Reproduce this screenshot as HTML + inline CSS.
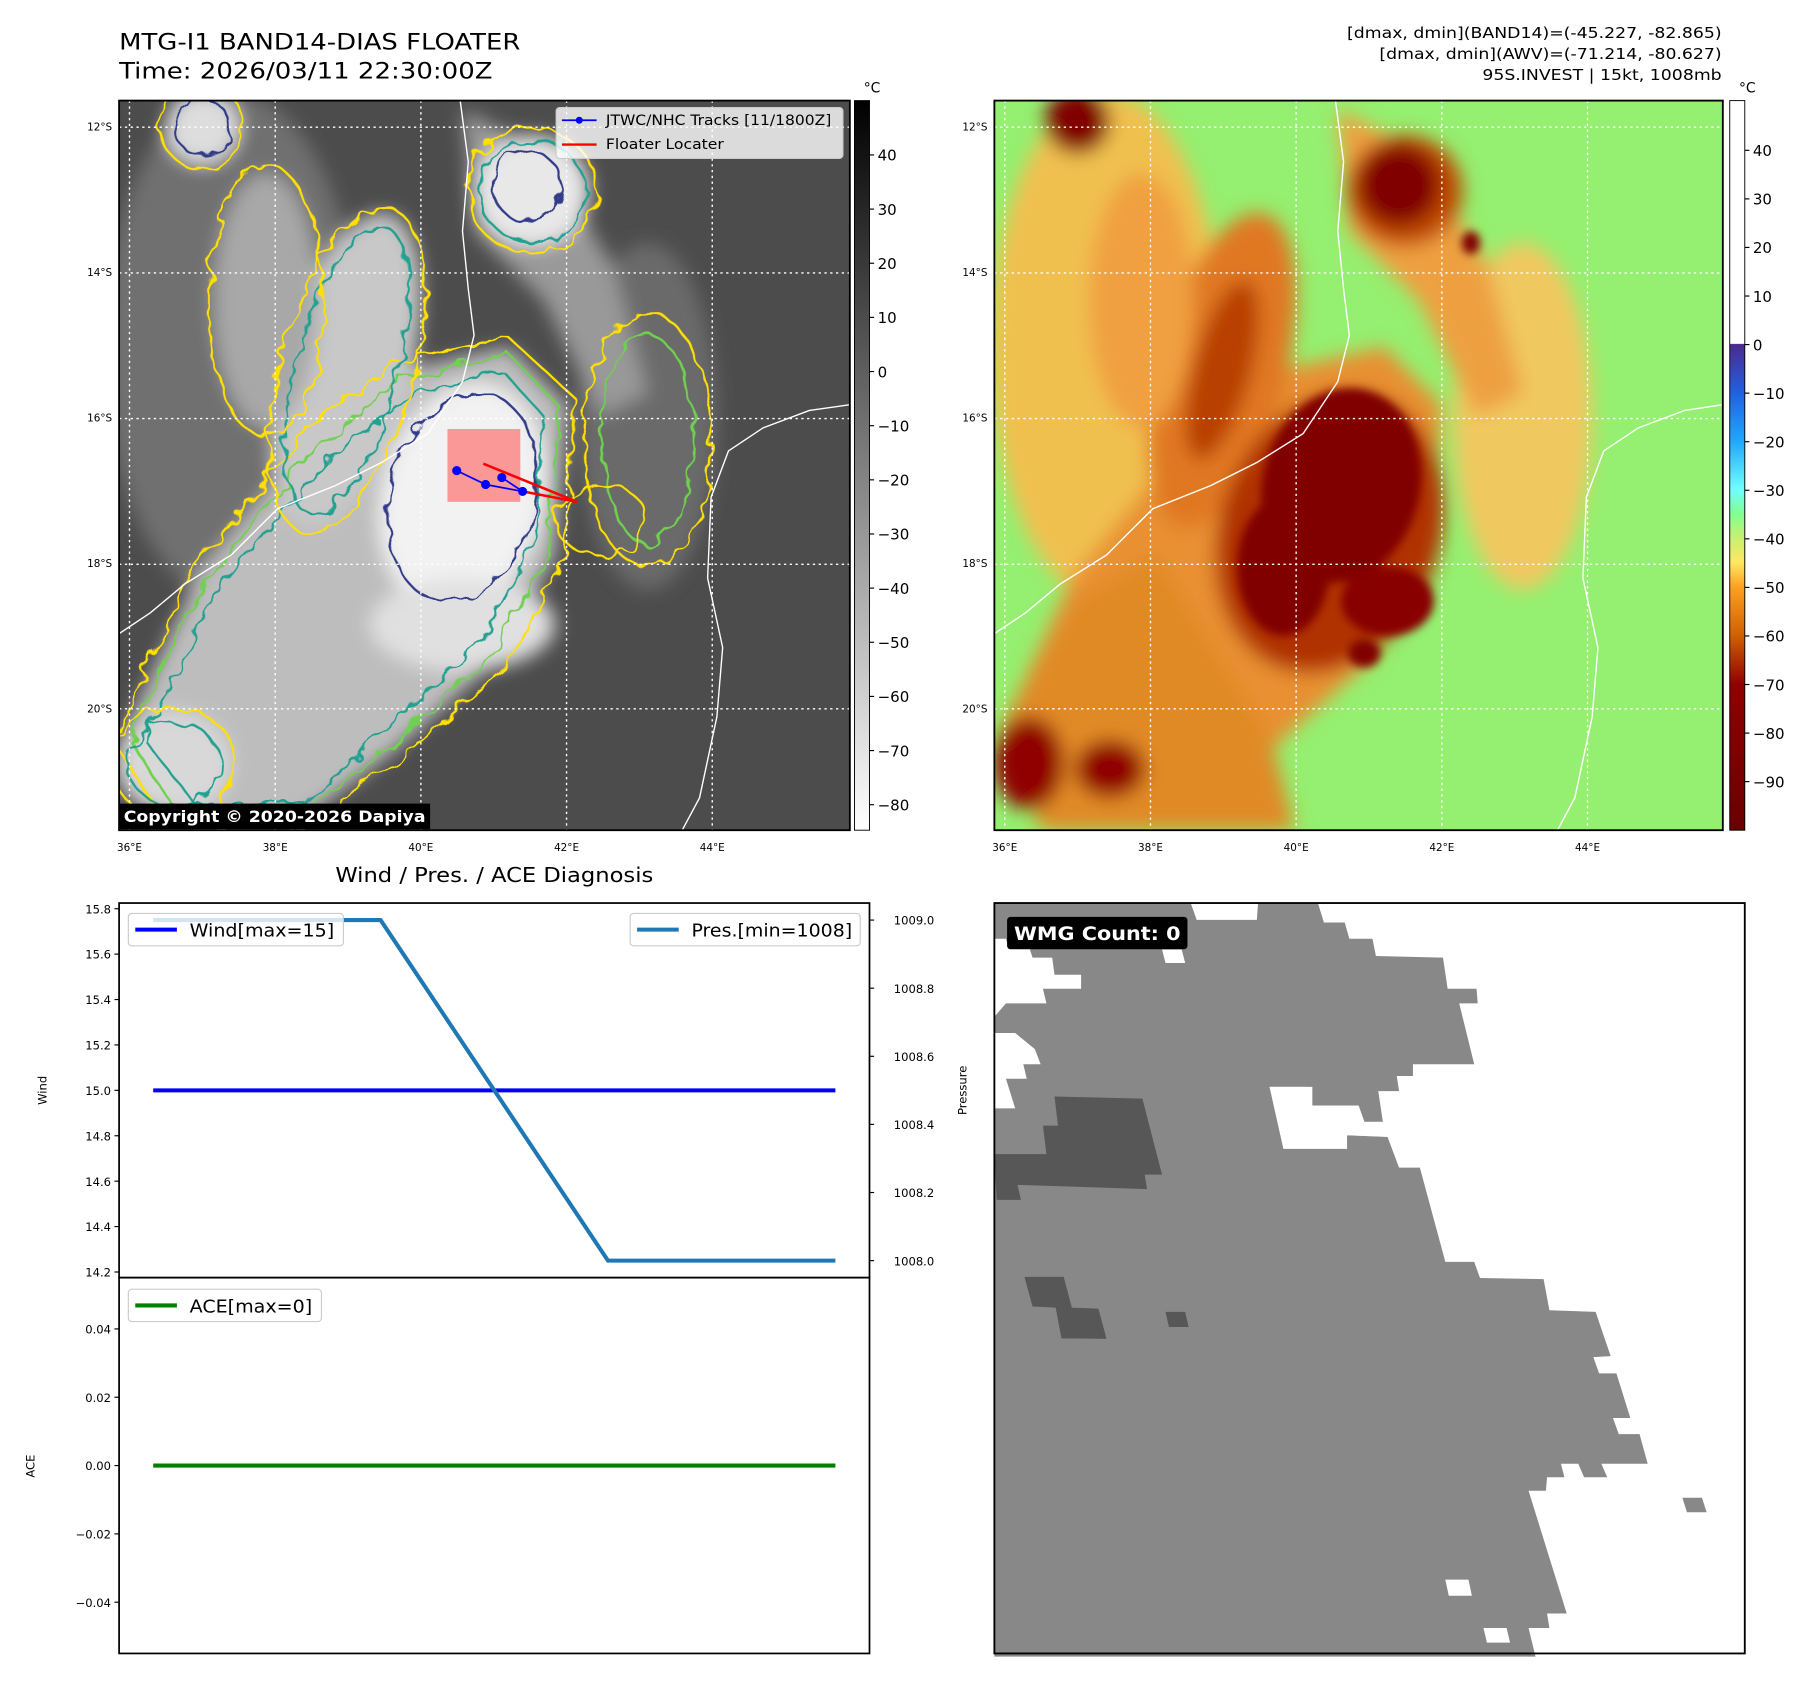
<!DOCTYPE html>
<html><head><meta charset="utf-8"><style>
html,body{margin:0;padding:0;background:#fff;}
svg{display:block;font-family:"DejaVu Sans","Liberation Sans",sans-serif;}
</style></head><body>
<svg id="fig" width="1813" height="1690" viewBox="0 0 1568 1461.6" xmlns="http://www.w3.org/2000/svg">
<defs>
  <filter id="blur8" x="-30%" y="-30%" width="160%" height="160%"><feGaussianBlur stdDeviation="8"/></filter>
  <filter id="blur4" x="-30%" y="-30%" width="160%" height="160%"><feGaussianBlur stdDeviation="4"/></filter>
  <filter id="wig" x="-10%" y="-10%" width="120%" height="120%"><feTurbulence type="fractalNoise" baseFrequency="0.06" numOctaves="2" seed="3"/><feDisplacementMap in="SourceGraphic" scale="14"/></filter>
  <clipPath id="clipL"><rect x="103" y="87" width="632" height="631"/></clipPath>
  <clipPath id="clipR"><rect x="860" y="87" width="630" height="631"/></clipPath>
  <linearGradient id="cbL" x1="0" y1="0" x2="0" y2="1"><stop offset="0" stop-color="#000"/><stop offset="1" stop-color="#fff"/></linearGradient>
  <linearGradient id="cbR" x1="0" y1="0" x2="0" y2="1">
    <stop offset="0" stop-color="#fff"/><stop offset="0.333" stop-color="#fff"/>
    <stop offset="0.334" stop-color="#4b2a90"/><stop offset="0.4" stop-color="#2060e0"/>
    <stop offset="0.467" stop-color="#20a8ff"/><stop offset="0.533" stop-color="#70ffff"/>
    <stop offset="0.567" stop-color="#80ff90"/><stop offset="0.6" stop-color="#c8f070"/>
    <stop offset="0.633" stop-color="#ffe860"/><stop offset="0.667" stop-color="#ffa020"/>
    <stop offset="0.733" stop-color="#d06000"/><stop offset="0.8" stop-color="#900000"/>
    <stop offset="1" stop-color="#6a0000"/>
  </linearGradient>
</defs>

<!-- titles -->
<text x="103" y="43" font-size="19" textLength="347" lengthAdjust="spacingAndGlyphs">MTG-I1 BAND14-DIAS FLOATER</text>
<text x="103" y="68" font-size="19" textLength="323" lengthAdjust="spacingAndGlyphs">Time: 2026/03/11 22:30:00Z</text>
<g font-size="13">
  <text x="1165" y="33" textLength="324" lengthAdjust="spacingAndGlyphs">[dmax, dmin](BAND14)=(-45.227, -82.865)</text>
  <text x="1193" y="51" textLength="296" lengthAdjust="spacingAndGlyphs">[dmax, dmin](AWV)=(-71.214, -80.627)</text>
  <text x="1282" y="69" textLength="207" lengthAdjust="spacingAndGlyphs">95S.INVEST | 15kt, 1008mb</text>
</g>

<!-- LEFT MAP -->
<g clip-path="url(#clipL)">
  <rect x="103" y="87" width="632" height="631" fill="#4c4c4c"/>
  <g filter="url(#blur8)">
    <ellipse cx="200" cy="300" rx="110" ry="220" fill="#707070"/>
    <ellipse cx="560" cy="360" rx="60" ry="150" fill="#6a6a6a"/>
    <polygon points="150,710 105,640 170,500 270,380 350,320 440,300 490,350 480,480 430,570 340,650 260,710" fill="#bdbdbd"/>
    <ellipse cx="300" cy="320" rx="55" ry="140" fill="#c8c8c8" transform="rotate(15 300 320)"/>
    <ellipse cx="230" cy="260" rx="45" ry="110" fill="#a8a8a8"/>
    <polygon points="400,95 470,130 530,230 560,340 520,360 470,260 410,200" fill="#999"/>
    <ellipse cx="460" cy="165" rx="50" ry="48" fill="#e8e8e8"/>
    <ellipse cx="175" cy="110" rx="32" ry="32" fill="#ddd"/>
    <ellipse cx="150" cy="660" rx="50" ry="45" fill="#d8d8d8"/>
    <ellipse cx="400" cy="430" rx="70" ry="100" fill="#f2f2f2" transform="rotate(15 400 430)"/>
    <ellipse cx="400" cy="540" rx="80" ry="40" fill="#e0e0e0"/>
  </g>
  <g filter="url(#wig)" fill="none" stroke-width="2">
    <polygon points="145,715 98,640 165,495 265,372 345,312 440,292 498,345 488,485 438,578 345,658 262,715" stroke="#ffe000"/>
    <polygon points="155,705 112,640 175,505 275,385 352,326 440,306 484,352 474,478 426,565 338,645 262,705" stroke="#70d050"/>
    <polygon points="168,695 125,640 185,515 283,398 358,340 436,322 470,360 462,472 418,552 332,632 265,695" stroke="#20a090"/>
    <ellipse cx="400" cy="430" rx="62" ry="92" stroke="#303a88" transform="rotate(15 400 430)"/>
    <ellipse cx="460" cy="165" rx="56" ry="54" stroke="#ffe000"/>
    <ellipse cx="460" cy="165" rx="46" ry="44" stroke="#20a090"/>
    <ellipse cx="455" cy="160" rx="30" ry="30" stroke="#303a88"/>
    <ellipse cx="300" cy="320" rx="58" ry="145" stroke="#ffe000" transform="rotate(15 300 320)"/>
    <ellipse cx="300" cy="320" rx="44" ry="128" stroke="#20a090" transform="rotate(15 300 320)"/>
    <ellipse cx="230" cy="260" rx="50" ry="118" stroke="#ffe000"/>
    <ellipse cx="175" cy="110" rx="36" ry="36" stroke="#ffe000"/>
    <ellipse cx="175" cy="110" rx="24" ry="24" stroke="#303a88"/>
    <ellipse cx="150" cy="660" rx="54" ry="48" stroke="#ffe000"/>
    <ellipse cx="150" cy="660" rx="40" ry="36" stroke="#20a090"/>
    <ellipse cx="560" cy="380" rx="55" ry="110" stroke="#ffe000"/>
    <ellipse cx="560" cy="380" rx="40" ry="90" stroke="#70d050"/>
    <ellipse cx="520" cy="450" rx="40" ry="30" stroke="#ffe000"/>
  </g>
  <g stroke="#fff" stroke-width="1.2" stroke-dasharray="2,3">
    <line x1="112" y1="87" x2="112" y2="718"/><line x1="238" y1="87" x2="238" y2="718"/><line x1="364" y1="87" x2="364" y2="718"/><line x1="490" y1="87" x2="490" y2="718"/><line x1="616" y1="87" x2="616" y2="718"/>
    <line x1="103" y1="110" x2="735" y2="110"/><line x1="103" y1="236" x2="735" y2="236"/><line x1="103" y1="362" x2="735" y2="362"/><line x1="103" y1="488" x2="735" y2="488"/><line x1="103" y1="613" x2="735" y2="613"/>
  </g>
  <g fill="none" stroke="#fff" stroke-width="1.2">
    <polyline points="103,548 130,530 160,505 200,480 240,440 290,420 330,400 370,375 400,330 410,290 405,250 400,200 405,140 398,87"/>
    <polyline points="735,350 700,355 660,370 630,390 615,430 612,500 625,560 620,620 605,690 590,718"/>
  </g>
  <rect x="387" y="371" width="63" height="63" fill="rgba(255,90,90,0.6)"/>
  <g stroke="#ff0000" stroke-width="2.2" fill="none">
    <line x1="418" y1="401" x2="499" y2="434"/><line x1="452" y1="425" x2="499" y2="434"/>
  </g>
  <g stroke="#0000ff" stroke-width="1.5" fill="#0000ff">
    <polyline points="395,407 420,419 452,425 434,413" fill="none"/>
    <circle cx="395" cy="407" r="3.2"/><circle cx="420" cy="419" r="3.2"/><circle cx="452" cy="425" r="3.2"/><circle cx="434" cy="413" r="3.2"/>
  </g>
  <g>
    <rect x="481" y="93" width="248" height="44" rx="3" fill="rgba(255,255,255,0.8)" stroke="#ccc"/>
    <line x1="486" y1="104" x2="516" y2="104" stroke="#0000ff" stroke-width="1.5"/><circle cx="501" cy="104" r="3" fill="#0000ff"/>
    <text x="524" y="108" font-size="12" textLength="195" lengthAdjust="spacingAndGlyphs">JTWC/NHC Tracks [11/1800Z]</text>
    <line x1="486" y1="125" x2="516" y2="125" stroke="#ff0000" stroke-width="2"/>
    <text x="524" y="129" font-size="12" textLength="102" lengthAdjust="spacingAndGlyphs">Floater Locater</text>
  </g>
  <rect x="103" y="695" width="269" height="22" fill="#000"/>
  <text x="107" y="711" font-size="14" font-weight="bold" fill="#fff" textLength="261" lengthAdjust="spacingAndGlyphs">Copyright © 2020-2026 Dapiya</text>
</g>
<rect x="103" y="87" width="632" height="631" fill="none" stroke="#000" stroke-width="1.6"/>
<rect x="739" y="87" width="13" height="631" fill="url(#cbL)" stroke="#000" stroke-width="0.8"/>
<text x="747" y="80" font-size="12">°C</text>
<g id="cbLticks" font-size="13"></g>

<!-- RIGHT MAP -->
<g clip-path="url(#clipR)">
  <rect x="860" y="87" width="630" height="631" fill="#95ef70"/>
  <g filter="url(#blur8)">
    <ellipse cx="957" cy="300" rx="100" ry="220" fill="#f0c050"/>
    <ellipse cx="1317" cy="360" rx="60" ry="150" fill="#f0c860"/>
    <polygon points="907,710 862,640 927,500 1027,380 1107,320 1197,300 1247,350 1237,480 1187,570 1097,650 1017,710" fill="#e89030"/>
    <polygon points="900,718 870,620 930,520 1000,480 1050,560 1100,640 1120,718" fill="#e08a28"/>
    <ellipse cx="1057" cy="320" rx="55" ry="140" fill="#e07820" transform="rotate(15 1057 320)"/>
    <ellipse cx="1057" cy="320" rx="25" ry="80" fill="#b84000" transform="rotate(15 1057 320)"/>
    <ellipse cx="987" cy="260" rx="45" ry="110" fill="#f0a040"/>
    <polygon points="1157,95 1227,130 1287,230 1317,340 1277,360 1227,260 1167,200" fill="#eea040"/>
    <ellipse cx="1215" cy="165" rx="50" ry="48" fill="#c04800"/>
    <ellipse cx="1210" cy="160" rx="35" ry="35" fill="#800000"/>
    <ellipse cx="932" cy="105" rx="28" ry="28" fill="#800000"/>
    <ellipse cx="890" cy="660" rx="30" ry="40" fill="#900000"/>
    <ellipse cx="960" cy="665" rx="30" ry="25" fill="#900000"/>
    <ellipse cx="1150" cy="460" rx="95" ry="125" fill="#b03000" transform="rotate(20 1150 460)"/>
  </g>
  <g filter="url(#blur4)">
    <ellipse cx="1160" cy="420" rx="68" ry="85" fill="#800000" transform="rotate(15 1160 420)"/>
    <ellipse cx="1110" cy="490" rx="40" ry="60" fill="#800000"/>
    <ellipse cx="1200" cy="520" rx="40" ry="30" fill="#880000"/>
    <ellipse cx="1180" cy="565" rx="14" ry="12" fill="#800000"/>
    <ellipse cx="1272" cy="210" rx="8" ry="10" fill="#800000"/>
  </g>
  <g stroke="#fff" stroke-width="1.2" stroke-dasharray="2,3">
    <line x1="869" y1="87" x2="869" y2="718"/><line x1="995" y1="87" x2="995" y2="718"/><line x1="1121" y1="87" x2="1121" y2="718"/><line x1="1247" y1="87" x2="1247" y2="718"/><line x1="1373" y1="87" x2="1373" y2="718"/>
    <line x1="860" y1="110" x2="1490" y2="110"/><line x1="860" y1="236" x2="1490" y2="236"/><line x1="860" y1="362" x2="1490" y2="362"/><line x1="860" y1="488" x2="1490" y2="488"/><line x1="860" y1="613" x2="1490" y2="613"/>
  </g>
  <g fill="none" stroke="#fff" stroke-width="1.2">
    <polyline points="860,548 887,530 917,505 957,480 997,440 1047,420 1087,400 1127,375 1157,330 1167,290 1162,250 1157,200 1162,140 1155,87"/>
    <polyline points="1490,350 1457,355 1417,370 1387,390 1372,430 1369,500 1382,560 1377,620 1362,690 1347,718"/>
  </g>
</g>
<rect x="860" y="87" width="630" height="631" fill="none" stroke="#000" stroke-width="1.6"/>
<rect x="1496" y="87" width="13" height="631" fill="url(#cbR)" stroke="#000" stroke-width="0.8"/>
<text x="1504" y="80" font-size="12">°C</text>
<g id="cbRticks" font-size="13"></g>
<g id="mapTicks" font-size="9"></g>

<!-- Diagnosis -->
<text x="290" y="763" font-size="18" textLength="275" lengthAdjust="spacingAndGlyphs">Wind / Pres. / ACE Diagnosis</text>
<g id="diag"></g>

<!-- WMG -->
<g id="wmg"></g>
</svg>
<script>
const NS='http://www.w3.org/2000/svg';
function mk(tag,attrs,parent,text){const e=document.createElementNS(NS,tag);for(const k in attrs)e.setAttribute(k,attrs[k]);if(text!==undefined)e.textContent=text;parent.appendChild(e);return e;}

// colorbar ticks
const cbLValues=[40,30,20,10,0,-10,-20,-30,-40,-50,-60,-70,-80];
const cbRValues=[40,30,20,10,0,-10,-20,-30,-40,-50,-60,-70,-80,-90];
const gL=document.getElementById('cbLticks');
cbLValues.forEach(v=>{const y=134+(40-v)*4.683;
  mk('line',{x1:752,y1:y,x2:756,y2:y,stroke:'#000'},gL);
  const t=mk('text',{x:759,y:y+5},gL,String(v).replace('-','\u2212'));
  
  });
const gR=document.getElementById('cbRticks');
cbRValues.forEach(v=>{const y=130+(40-v)*4.2;
  mk('line',{x1:1509,y1:y,x2:1513,y2:y,stroke:'#000'},gR);
  const t=mk('text',{x:1516,y:y+5},gR,String(v).replace('-','\u2212'));
  
  });

// map ticks
const latLabels=['12°S','14°S','16°S','18°S','20°S'];
const lonLabels=['36°E','38°E','40°E','42°E','44°E'];
const gM=document.getElementById('mapTicks');
[[103,112],[860,869]].forEach(([x0,lx0])=>{
  latLabels.forEach((s,i)=>{const t=mk('text',{x:x0-6,y:110+i*125.8+3,'text-anchor':'end'},gM,s);
    });
  lonLabels.forEach((s,i)=>{const t=mk('text',{x:lx0+i*126,y:736,'text-anchor':'middle'},gM,s);
    });
});

// diagnosis chart data
const times=[0,1,2,3];
const windValues=[15,15,15,15];
const presValues=[1009,1009,1008,1008];
const aceValues=[0,0,0,0];
const windTicks=[14.2,14.4,14.6,14.8,15.0,15.2,15.4,15.6,15.8];
const presTicks=[1008.0,1008.2,1008.4,1008.6,1008.8,1009.0];
const aceTicks=[-0.04,-0.02,0.00,0.02,0.04];

const X0=103,X1=752,TOP=781,MID=1105,BOT=1430;
const xS=t=>X0+(t+0.15)/3.3*(X1-X0);
const windY=v=>TOP+(15.825-v)/1.65*(MID-TOP);
const presY=v=>TOP+(1009.05-v)/1.1*(MID-TOP);
const aceY=v=>MID+(0.055-v)/0.11*(BOT-MID);
const gD=document.getElementById('diag');
const ax1=mk('rect',{x:X0,y:TOP,width:X1-X0,height:MID-TOP,fill:'#fff',stroke:'#000','stroke-width':1.5},gD);

const ax2=mk('rect',{x:X0,y:MID,width:X1-X0,height:BOT-MID,fill:'#fff',stroke:'#000','stroke-width':1.5},gD);

windTicks.forEach(v=>{const y=windY(v);mk('line',{x1:X0-4,y1:y,x2:X0,y2:y,stroke:'#000'},gD);
  const t=mk('text',{x:X0-7,y:y+4,'font-size':10,'text-anchor':'end'},gD,v.toFixed(1));
  });
presTicks.forEach(v=>{const y=presY(v);mk('line',{x1:X1,y1:y,x2:X1+4,y2:y,stroke:'#000'},gD);
  const t=mk('text',{x:X1+21,y:y+4,'font-size':10},gD,v.toFixed(1));
  });
aceTicks.forEach(v=>{const y=aceY(v);mk('line',{x1:X0-4,y1:y,x2:X0,y2:y,stroke:'#000'},gD);
  const t=mk('text',{x:X0-7,y:y+4,'font-size':10,'text-anchor':'end'},gD,v.toFixed(2).replace('-','\u2212'));
  });
let l=mk('text',{x:0,y:0,'font-size':10,'text-anchor':'middle',transform:'translate(40,943) rotate(-90)'},gD,'Wind');

l=mk('text',{x:0,y:0,'font-size':10,'text-anchor':'middle',transform:'translate(836,943) rotate(-90)'},gD,'Pressure');

l=mk('text',{x:0,y:0,'font-size':10,'text-anchor':'middle',transform:'translate(30,1268) rotate(-90)'},gD,'ACE');


let p=mk('polyline',{points:times.map((t,i)=>xS(t)+','+windY(windValues[i])).join(' '),fill:'none',stroke:'#0000ff','stroke-width':3.5},gD);

p=mk('polyline',{points:times.map((t,i)=>xS(t)+','+presY(presValues[i])).join(' '),fill:'none',stroke:'#1f77b4','stroke-width':3.5},gD);

p=mk('polyline',{points:times.map((t,i)=>xS(t)+','+aceY(aceValues[i])).join(' '),fill:'none',stroke:'#008000','stroke-width':3.5},gD);


function legend(x,y,w,color,label,tl,name){const g=mk('g',{},gD);
  
  mk('rect',{x:x,y:y,width:w,height:28,rx:3,fill:'rgba(255,255,255,0.8)',stroke:'#ccc'},g);
  mk('line',{x1:x+6,y1:y+14,x2:x+42,y2:y+14,stroke:color,'stroke-width':3.5},g);
  mk('text',{x:x+53,y:y+20,'font-size':15,textLength:tl,lengthAdjust:'spacingAndGlyphs'},g,label);}
legend(111,790,186,'#0000ff','Wind[max=15]',125,'wind-legend');
legend(545,790,199,'#1f77b4','Pres.[min=1008]',139,'pressure-legend');
legend(111,1115,167,'#008000','ACE[max=0]',106,'ace-legend');

// WMG panel (outline in zoom coords: x as-is, y -> 735 + zy/2.147)
const cy=z=>735+z/2.147;
const gW=document.getElementById('wmg');
mk('rect',{x:860,y:781,width:649,height:649,fill:'#fff'},gW);
const grayPoly=[[860,100],[1030,100],[1035,130],[1087,130],[1088,100],[1140,100],[1145,135],[1163,135],[1167,165],[1187,165],[1190,197],[1248,200],[1252,258],[1277,258],[1278,285],[1262,285],[1275,398],[1222,398],[1222,420],[1208,420],[1210,448],[1192,448],[1196,505],[1180,505],[1175,475],[1135,475],[1130,440],[1098,440],[1110,555],[1165,555],[1165,530],[1200,533],[1210,590],[1228,590],[1250,765],[1275,765],[1280,795],[1335,797],[1340,855],[1380,858],[1393,940],[1378,942],[1383,972],[1398,972],[1410,1055],[1395,1055],[1400,1085],[1418,1085],[1425,1140],[1385,1140],[1390,1165],[1370,1165],[1365,1140],[1350,1140],[1353,1165],[1338,1165],[1337,1190],[1322,1190],[1355,1418],[1338,1418],[1340,1445],[1322,1445],[1328,1498],[860,1498],[860,480],[878,480],[870,425],[888,425],[885,398],[900,398],[895,370],[878,340],[860,340],[860,310],[870,285],[905,285],[902,258],[935,258],[935,232],[912,232],[910,200],[893,200],[890,180],[872,180],[870,165],[860,165]];
const pts=a=>a.map(q=>q[0]+','+cy(q[1])).join(' ');
const gp=mk('polygon',{points:pts(grayPoly),fill:'#888'},gW);

mk('polygon',{points:pts([[1098,440],[1135,440],[1135,475],[1175,475],[1180,505],[1196,505],[1200,533],[1165,530],[1165,555],[1110,555]]),fill:'#fff'},gW);
mk('polygon',{points:pts([[1250,1355],[1270,1355],[1273,1385],[1253,1385]]),fill:'#fff'},gW);
mk('polygon',{points:pts([[1283,1445],[1303,1445],[1306,1472],[1286,1472]]),fill:'#fff'},gW);
mk('polygon',{points:pts([[1005,185],[1022,185],[1025,210],[1008,210]]),fill:'#fff'},gW);
mk('polygon',{points:pts([[1455,1203],[1472,1203],[1476,1230],[1459,1230]]),fill:'#888'},gW);
const darkPolys=[
 [[912,458],[988,462],[1005,603],[990,603],[992,630],[880,622],[883,650],[862,650],[860,565],[905,565],[902,512],[915,512]],
 [[886,793],[920,793],[927,850],[950,852],[957,908],[918,907],[913,850],[893,848]],
 [[1008,858],[1025,858],[1028,886],[1011,886]]];
darkPolys.forEach(d=>{const e=mk('polygon',{points:pts(d),fill:'#575757'},gW);
  });
mk('rect',{x:860,y:781,width:649,height:649,fill:'none',stroke:'#000','stroke-width':1.6},gW);
const lb=mk('g',{},gW);

mk('rect',{x:871,y:793,width:156,height:28,rx:3,fill:'#000'},lb);
mk('text',{x:877,y:813,'font-size':16,'font-weight':'bold',fill:'#fff',textLength:144,lengthAdjust:'spacingAndGlyphs'},lb,'WMG Count: 0');
</script>
</body></html>
